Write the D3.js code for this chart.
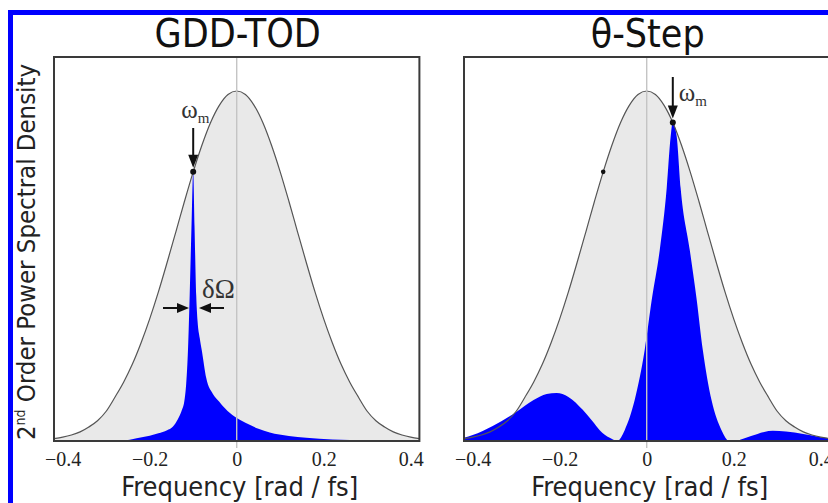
<!DOCTYPE html>
<html>
<head>
<meta charset="utf-8">
<script src="https://cdn.jsdelivr.net/npm/d3@7"></script>
<style>
  body { margin: 0; background: #fff; }
  svg { display: block; }
</style>
</head>
<body>
<div id="chart"></div>
<script>
// Envelope (fundamental-limited SHG spectrum), same in both panels
const freq = [-0.42, -0.40, -0.38, -0.36, -0.34, -0.32, -0.30, -0.28, -0.26, -0.24, -0.22, -0.20,
  -0.18, -0.16, -0.14, -0.12, -0.10, -0.08, -0.06, -0.04, -0.02, 0, 0.02, 0.04, 0.06, 0.08, 0.10,
  0.12, 0.14, 0.16, 0.18, 0.20, 0.22, 0.24, 0.26, 0.28, 0.30, 0.32, 0.34, 0.36, 0.38, 0.40, 0.42];
const envelope = [0.007, 0.011, 0.017, 0.026, 0.040, 0.058, 0.085, 0.125, 0.168, 0.219, 0.280, 0.349,
  0.426, 0.510, 0.597, 0.685, 0.769, 0.845, 0.910, 0.959, 0.990, 1.0, 0.990, 0.959, 0.910, 0.845, 0.769,
  0.685, 0.597, 0.510, 0.426, 0.349, 0.280, 0.219, 0.168, 0.125, 0.085, 0.058, 0.040, 0.026, 0.017, 0.011, 0.007];

// GDD-TOD shaped spectrum (blue)
const gddFreq = [-0.42, -0.30, -0.262, -0.23, -0.20, -0.18, -0.16, -0.147, -0.135, -0.127, -0.12, -0.116,
  -0.112, -0.108, -0.104, -0.1, -0.097, -0.093, -0.09, -0.085, -0.08, -0.07, -0.055, -0.04, -0.032,
  -0.01, 0.02, 0.05, 0.076, 0.12, 0.16, 0.22, 0.30, 0.36, 0.42];
const gddPsd = [0, 0, 0.001, 0.008, 0.015, 0.022, 0.031, 0.041, 0.063, 0.085, 0.117, 0.166,
  0.26, 0.42, 0.61, 0.769, 0.614, 0.414, 0.343, 0.294, 0.257, 0.18, 0.135, 0.112, 0.1,
  0.074, 0.052, 0.035, 0.024, 0.014, 0.009, 0.004, 0.002, 0.001, 0];

// theta-step shaped spectrum (blue)
const stepFreq = [-0.42, -0.40, -0.354, -0.30, -0.26, -0.23, -0.207, -0.18, -0.147, -0.125, -0.108,
  -0.085, -0.068, -0.0506, -0.0276, -0.0046, 0.0115, 0.030, 0.046, 0.055, 0.0598, 0.069, 0.078,
  0.099, 0.115, 0.129, 0.149, 0.172, 0.19, 0.205, 0.22, 0.24, 0.27, 0.29, 0.32, 0.36, 0.40, 0.42];
const stepPsd = [0.009, 0.017, 0.043, 0.083, 0.117, 0.134, 0.137, 0.126, 0.089, 0.057, 0.031,
  0.009, 0, 0.031, 0.117, 0.26, 0.403, 0.546, 0.723, 0.869, 0.911, 0.869, 0.723,
  0.546, 0.403, 0.26, 0.117, 0.031, 0, 0, 0.006, 0.014, 0.026, 0.029, 0.027, 0.02, 0.011, 0.008];

const xTicks = [-0.4, -0.2, 0, 0.2, 0.4];
const omegaM = [-0.1, 0.06];      // marked frequency in each panel
const extraDot = -0.1;            // second dot on the theta-step envelope

const W = 828, H = 503;
const plotTop = 57, plotBottom = 441;
const panels = [
  { title: "GDD-TOD", left: 54, right: 419.4, psdX: gddFreq, psdY: gddPsd, wm: omegaM[0] },
  { title: "\u03B8-Step", left: 464, right: 829.4, psdX: stepFreq, psdY: stepPsd, wm: omegaM[1] }
];

const svg = d3.select("#chart").append("svg")
  .attr("width", W)
  .attr("height", H);

// blue outer border
svg.append("rect")
  .attr("x", 10.5).attr("y", 12.5)
  .attr("width", W + 20).attr("height", H + 20)
  .attr("fill", "none")
  .attr("stroke", "#0000ff")
  .attr("stroke-width", 5);

const defs = svg.append("defs");
const sans = "'DejaVu Sans Condensed', 'DejaVu Sans', sans-serif";
const serif = "'Liberation Serif', 'DejaVu Serif', serif";

const y = d3.scaleLinear().domain([0, (plotBottom - plotTop) / 350]).range([plotBottom, plotTop]);

panels.forEach((p, i) => {
  const x = d3.scaleLinear().domain([-0.42, 0.42]).range([p.left, p.right]);
  const g = svg.append("g");

  defs.append("clipPath").attr("id", "clip" + i)
    .append("rect")
    .attr("x", p.left).attr("y", plotTop)
    .attr("width", p.right - p.left).attr("height", plotBottom - plotTop);

  const plot = g.append("g").attr("clip-path", `url(#clip${i})`);

  const env = freq.map((f, k) => [f, envelope[k]]);
  plot.append("path")
    .datum(env)
    .attr("fill", "#e9e9e9")
    .attr("d", d3.area().x(d => x(d[0])).y0(y(0)).y1(d => y(d[1])).curve(d3.curveMonotoneX));

  // zero line
  g.append("line")
    .attr("x1", x(0)).attr("x2", x(0))
    .attr("y1", plotTop).attr("y2", plotBottom + 7)
    .attr("stroke", "#c4c4c4")
    .attr("stroke-width", 1.4);

  const psd = p.psdX.map((f, k) => [f, p.psdY[k]]);
  plot.append("path")
    .datum(psd)
    .attr("fill", "#0000ff")
    .attr("d", d3.area().x(d => x(d[0])).y0(y(0)).y1(d => y(d[1])).curve(d3.curveMonotoneX));

  plot.append("path")
    .datum(env)
    .attr("fill", "none")
    .attr("stroke", "#555")
    .attr("stroke-width", 1.2)
    .attr("d", d3.line().x(d => x(d[0])).y(d => y(d[1])).curve(d3.curveMonotoneX));

  // frame
  g.append("rect")
    .attr("x", p.left).attr("y", plotTop)
    .attr("width", p.right - p.left).attr("height", plotBottom - plotTop)
    .attr("fill", "none")
    .attr("stroke", "#3a3a3a")
    .attr("stroke-width", 2);

  // x axis
  const ax = g.append("g")
    .attr("transform", `translate(0,${plotBottom + 8})`)
    .call(d3.axisBottom(x).tickValues(xTicks).tickSize(0)
      .tickFormat(d => d === 0 ? "0" : d3.format(".1f")(d)));
  ax.select(".domain").remove();
  ax.selectAll("text")
    .attr("font-family", serif)
    .attr("font-size", 20)
    .attr("fill", "#222");

  g.append("text")
    .attr("x", x(0) + 3).attr("y", 496)
    .attr("text-anchor", "middle")
    .attr("font-family", sans)
    .attr("font-size", 27)
    .attr("fill", "#222")
    .text("Frequency [rad / fs]");

  g.append("text")
    .attr("x", x(0) + 1).attr("y", 47)
    .attr("text-anchor", "middle")
    .attr("font-family", sans)
    .attr("font-size", 39)
    .attr("fill", "#111")
    .text(p.title);

  // omega_m marker
  const envAt = f => {
    const k = freq.findIndex(v => Math.abs(v - f) < 1e-9);
    return envelope[k];
  };
  const mx = x(p.wm), my = y(envAt(p.wm));
  g.append("circle").attr("cx", mx).attr("cy", my).attr("r", 3).attr("fill", "#111");
  if (i === 1) {
    g.append("circle").attr("cx", x(extraDot)).attr("cy", y(envAt(extraDot)))
      .attr("r", 2.3).attr("fill", "#111");
  }
  g.append("line")
    .attr("x1", mx).attr("x2", mx)
    .attr("y1", i === 0 ? 128 : 77).attr("y2", my - 14)
    .attr("stroke", "#111").attr("stroke-width", 2);
  g.append("path")
    .attr("d", `M${mx - 5},${my - 17} L${mx + 5},${my - 17} L${mx},${my - 4} Z`)
    .attr("fill", "#111");

  const lab = g.append("text")
    .attr("font-family", serif)
    .attr("font-size", 25)
    .attr("fill", "#333");
  if (i === 0) {
    lab.attr("x", mx - 12).attr("y", 118);
  } else {
    lab.attr("x", mx + 6).attr("y", 101);
  }
  lab.append("tspan").text("\u03C9");
  lab.append("tspan").attr("font-size", 15).attr("dy", 5).text("m");

  if (i === 0) {
    // delta-Omega width arrows
    const ay = 308;
    g.append("line").attr("x1", 163).attr("x2", 180).attr("y1", ay).attr("y2", ay)
      .attr("stroke", "#111").attr("stroke-width", 2);
    g.append("path").attr("d", `M177,${ay - 5} L189,${ay} L177,${ay + 5} Z`).attr("fill", "#111");
    g.append("line").attr("x1", 208).attr("x2", 224).attr("y1", ay).attr("y2", ay)
      .attr("stroke", "#111").attr("stroke-width", 2);
    g.append("path").attr("d", `M211,${ay - 5} L199,${ay} L211,${ay + 5} Z`).attr("fill", "#111");
    g.append("text")
      .attr("x", 202).attr("y", 298)
      .attr("font-family", serif)
      .attr("font-size", 27)
      .attr("fill", "#333")
      .text("\u03B4\u03A9");
  }
});

// y-axis label
const yl = svg.append("text")
  .attr("transform", `translate(35,${(plotTop + plotBottom) / 2 + 3}) rotate(-90)`)
  .attr("text-anchor", "middle")
  .attr("font-family", sans)
  .attr("font-size", 25.5)
  .attr("fill", "#222");
yl.append("tspan").text("2");
yl.append("tspan").attr("font-size", 14).attr("dy", -10).text("nd");
yl.append("tspan").attr("dy", 10).text(" Order Power Spectral Density");
</script>
</body>
</html>
